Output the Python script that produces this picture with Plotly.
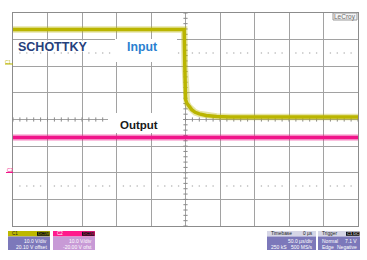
import plotly.graph_objects as go

# ---------------- data ----------------
C1_VDIV, C1_OFFSET = 10.0, 20.10      # V/div, V offset (Input)
C2_VDIV, C2_OFFSET = 10.0, -20.00     # V/div, V offset (Output)
TIME_DIV = 50.0                       # µs/div, 10 divisions, trigger at centre

# C1 (Input) in volts vs time in µs
c1_t = [-250, -2, -1, 0, 2, 5, 9, 14, 20, 30, 45, 65, 250]
c1_v = [13.7, 13.7, 0.0, -12.5, -14.0, -15.3, -16.4, -17.4, -18.0, -18.6, -19.0, -19.2, -19.2]
# C2 (Output)
c2_t = [-250, 250]
c2_v = [13.2, 13.2]

TRIG_LEVEL = 7.1  # V on C1

labels = {"title": "SCHOTTKY", "in": "Input", "out": "Output"}

def to_div(v, off, vdiv):
    return [(x + off) / vdiv for x in v]

y1 = to_div(c1_v, C1_OFFSET, C1_VDIV)
y2 = to_div(c2_v, C2_OFFSET, C2_VDIV)

W, H = 367, 260
L, R, T, B = 13, 358, 13, 226
def px(p):  # pixel x -> paper
    return (p - L) / (R - L)
def py(p):  # pixel y -> paper
    return (B - p) / (B - T)

YEL = "#bab500"
MAG = "#f0148a"
GRID = "#a2a2a2"

fig = go.Figure()

# sub-division dotted rows
dx, dy = [], []
for k in range(10):
    for j in range(1, 5):
        xv = -250 + k * TIME_DIV + j * TIME_DIV / 5
        for yr in (2.5, -2.5):
            dx.append(xv); dy.append(yr)
fig.add_trace(go.Scatter(x=dx, y=dy, mode="markers",
                         marker=dict(size=1.6, color="#b4b4b4"), hoverinfo="skip"))
# centre-line ticks
tx = [-250 + i * TIME_DIV / 5 for i in range(51)]
fig.add_trace(go.Scatter(x=tx, y=[0] * len(tx), mode="markers",
                         marker=dict(symbol="line-ns-open", size=3, color="#8a8a8a",
                                     line=dict(width=1, color="#8a8a8a")), hoverinfo="skip"))
ty = [-4 + i * 0.2 for i in range(41)]
fig.add_trace(go.Scatter(x=[0] * len(ty), y=ty, mode="markers",
                         marker=dict(symbol="line-ew-open", size=3, color="#8a8a8a",
                                     line=dict(width=1, color="#8a8a8a")), hoverinfo="skip"))

# traces (fuzz + core)
for t, y, c in ((c2_t, y2, MAG), (c1_t, y1, YEL)):
    fig.add_trace(go.Scatter(x=t, y=y, mode="lines", line=dict(color=c, width=6.5),
                             opacity=0.35, hoverinfo="skip"))
    fig.add_trace(go.Scatter(x=t, y=y, mode="lines", line=dict(color=c, width=3.5),
                             hoverinfo="skip"))

fig.update_xaxes(range=[-5 * TIME_DIV, 5 * TIME_DIV], dtick=TIME_DIV, showgrid=True,
                 gridcolor=GRID, gridwidth=1, zeroline=False, showticklabels=False,
                 showline=True, mirror=True, linecolor="#8c8c8c", linewidth=1, ticks="")
fig.update_yaxes(range=[-4, 4], dtick=1, showgrid=True, gridcolor=GRID, gridwidth=1,
                 zeroline=False, showticklabels=False, showline=True, mirror=True,
                 linecolor="#8c8c8c", linewidth=1, ticks="")

shapes = []
ann = []
def rect(x0, y0, x1, y1, fill, line=None):
    shapes.append(dict(type="rect", xref="paper", yref="paper", x0=px(x0), x1=px(x1),
                       y0=py(y1), y1=py(y0), fillcolor=fill, layer="above",
                       line=dict(width=0 if line is None else 1, color=line or fill)))
def text(x, y, s, size, color, xanchor="center", bold=False, family="Liberation Sans"):
    ann.append(dict(x=px(x), y=py(y), xref="paper", yref="paper", text=("<b>%s</b>" % s) if bold else s,
                    showarrow=False, xanchor=xanchor, yanchor="middle",
                    font=dict(size=size, color=color, family=family)))

# white label boxes
rect(15, 40.5, 112, 51.5, "white")
rect(115, 39, 177, 62, "white")
rect(108, 113, 183, 133, "white")
text(52, 46.5, labels["title"], 12.5, "#263f7c", bold=True)
text(142, 47, labels["in"], 12.3, "#2a7fd0", bold=True)
text(139, 125, labels["out"], 11.5, "#1a1a1a", bold=True)

# LeCroy logo box
rect(333, 13, 357, 20, "#f4f4f4", "#9a9a9a")
text(345, 16.8, "LeCroy", 6.5, "#6a6a6a")

# channel markers
text(8, 62, "C1", 4.5, YEL)
shapes.append(dict(type="line", xref="paper", yref="paper", x0=px(5), x1=px(13),
                   y0=py(64), y1=py(64), line=dict(color=YEL, width=1)))
text(10, 170.5, "C2", 4.5, MAG)
shapes.append(dict(type="line", xref="paper", yref="paper", x0=px(6), x1=px(13),
                   y0=py(172.5), y1=py(172.5), line=dict(color=MAG, width=1)))
# trigger level marker (right) and trigger position marker (bottom)
trig_div = (TRIG_LEVEL + C1_OFFSET) / C1_VDIV
fig.add_trace(go.Scatter(x=[252], y=[trig_div], mode="markers", cliponaxis=False,
                         marker=dict(symbol="triangle-left", size=4, color=YEL), hoverinfo="skip"))
fig.add_trace(go.Scatter(x=[0], y=[-4.12], mode="markers", cliponaxis=False,
                         marker=dict(symbol="square", size=3, color=YEL), hoverinfo="skip"))

# bottom info boxes
BODY = "#7c78ba"
rect(8, 231, 50, 236.5, "#bdb800")
rect(8, 236.5, 50, 250, BODY)
rect(37, 231.8, 49.5, 235.8, "#111111")
text(10, 233.7, "C1", 4.5, "#222222", xanchor="left")
text(43.3, 233.7, "DC1M", 4, "#bdb800")
text(49, 240.5, "10.0 V/div", 5, "white", xanchor="right")
text(49, 246.5, "20.10 V offset", 5, "white", xanchor="right")

rect(53, 231, 95, 236.5, "#ff1a8c")
rect(53, 236.5, 95, 250, "#c89ad6")
rect(82, 231.8, 94.5, 235.8, "#111111")
text(55, 233.7, "C2", 4.5, "white", xanchor="left")
text(88.3, 233.7, "DC1M", 4, "#ff1a8c")
text(94, 240.5, "10.0 V/div", 5, "white", xanchor="right")
text(94, 246.5, "-20.00 V ofst", 5, "white", xanchor="right")

rect(267, 231, 316, 236.5, "#d6d6e6")
rect(267, 236.5, 316, 250, BODY)
text(269, 233.7, "Timebase", 4.8, "#222222", xanchor="left")
text(315, 233.7, "0 µs", 4.8, "#222222", xanchor="right")
text(315, 240.5, "50.0 µs/div", 5, "white", xanchor="right")
text(269, 246.5, "250 kS", 5, "white", xanchor="left")
text(315, 246.5, "500 MS/s", 5, "white", xanchor="right")

rect(318, 231, 360, 236.5, "#d6d6e6")
rect(318, 236.5, 360, 250, BODY)
rect(346, 231.8, 359.5, 235.8, "#111111")
text(320, 233.7, "Trigger", 4.8, "#222222", xanchor="left")
text(352.7, 233.7, "C1 DC", 4, "white")
text(320, 240.5, "Normal", 5, "white", xanchor="left")
text(359, 240.5, "7.1 V", 5, "white", xanchor="right")
text(320, 246.5, "Edge", 5, "white", xanchor="left")
text(359, 246.5, "Negative", 5, "white", xanchor="right")

fig.update_layout(width=W, height=H, margin=dict(l=L, r=W - R, t=T, b=H - B, pad=0),
                  paper_bgcolor="white", plot_bgcolor="white", showlegend=False,
                  shapes=shapes, annotations=ann)

fig.write_html("out.html", config={"displayModeBar": False})
